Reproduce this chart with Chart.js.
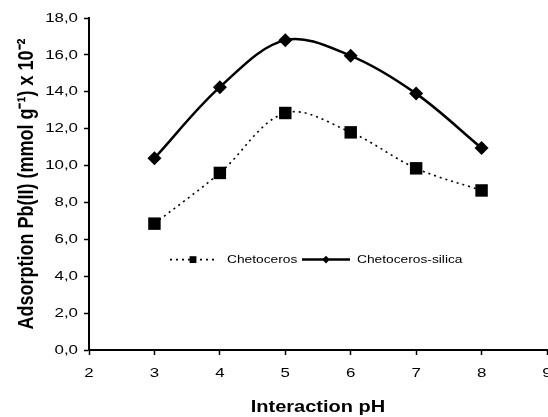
<!DOCTYPE html>
<html>
<head>
<meta charset="utf-8">
<script src="https://cdn.jsdelivr.net/npm/chart.js@4"></script>
<style>
  html, body { margin: 0; padding: 0; background: #fff; }
  #wrap { width: 548px; height: 417px; }
</style>
</head>
<body>
<div id="wrap"><canvas id="chart" width="548" height="417"></canvas></div>
<script>
// Data
const phValues = [3, 4, 5, 6, 7, 8];
const chetoceros = [6.85, 9.6, 12.85, 11.8, 9.85, 8.65];
const chetocerosSilica = [10.4, 14.25, 16.8, 15.95, 13.9, 10.95];
const seriesNames = ["Chetoceros", "Chetoceros-silica"];
const xTitle = "Interaction pH";
const yTitle = "Adsorption Pb(II) (mmol g\u207B\u00B9) x 10\u207B\u00B2";

const toPoints = (ys) => phValues.map((x, i) => ({ x: x, y: ys[i] }));
const fontFamily = "'Liberation Sans', Arial, sans-serif";

// The original figure has its text stretched sideways; mimic that
const TEXT_STRETCH = 1.25;
const ctx = document.getElementById("chart").getContext("2d");
const baseFillText = ctx.fillText;
ctx.fillText = function (text, x, y) {
  const m = this.getTransform();
  const p = m.transformPoint(new DOMPoint(x, y));
  this.save();
  this.setTransform(new DOMMatrix().translate(p.x, p.y).scale(TEXT_STRETCH, 1).translate(-p.x, -p.y).multiply(m));
  baseFillText.call(this, text, x, y);
  this.restore();
};

// Legend drawn inside the plot area, like the original
const innerLegend = {
  id: "innerLegend",
  afterDraw(chart) {
    const c = chart.ctx;
    const y = chart.scales.y.getPixelForValue(4.9);
    const items = [
      { ds: chart.data.datasets[0], x0: 170, x1: 216, text: seriesNames[0], tx: 227 },
      { ds: chart.data.datasets[1], x0: 302, x1: 350, text: seriesNames[1], tx: 357 },
    ];
    c.save();
    items.forEach((it) => {
      c.beginPath();
      c.strokeStyle = it.ds.borderColor;
      c.lineWidth = it.ds.borderWidth;
      c.setLineDash(it.ds.borderDash || []);
      c.moveTo(it.x0, y);
      c.lineTo(it.x1, y);
      c.stroke();
      c.setLineDash([]);
      c.fillStyle = "#000";
      Chart.helpers.drawPoint(c, { pointStyle: it.ds.pointStyle, radius: it.ds.pointRadius * 0.55, borderWidth: 0 },
        (it.x0 + it.x1) / 2, y);
      c.font = "11px " + fontFamily;
      c.textBaseline = "middle";
      c.textAlign = "left";
      c.fillText(it.text, it.tx, y);
    });
    c.restore();
  },
};

new Chart(ctx, {
  type: "line",
  data: {
    datasets: [
      {
        label: seriesNames[0],
        data: toPoints(chetoceros),
        borderColor: "#000",
        borderWidth: 1.6,
        borderDash: [2, 4],
        pointStyle: "rect",
        pointRadius: 8.8,
        pointBackgroundColor: "#000",
        pointBorderWidth: 0,
        tension: 0.35,
      },
      {
        label: seriesNames[1],
        data: toPoints(chetocerosSilica),
        borderColor: "#000",
        borderWidth: 2.5,
        pointStyle: "rectRot",
        pointRadius: 7,
        pointBackgroundColor: "#000",
        pointBorderWidth: 0,
        tension: 0.35,
      },
    ],
  },
  options: {
    responsive: false,
    animation: false,
    layout: { autoPadding: false, padding: { top: 18, right: 1, bottom: 0, left: 0 } },
    plugins: { legend: { display: false }, tooltip: { enabled: false } },
    scales: {
      x: {
        type: "linear",
        min: 2,
        max: 9,
        afterFit: (scale) => {
          scale.height = 67;
          scale.paddingLeft = 0;
          scale.paddingRight = 0;
        },
        border: { color: "#000", width: 2 },
        grid: { drawOnChartArea: false, tickLength: 5, color: "#000", tickWidth: 1.5 },
        ticks: { stepSize: 1, color: "#000", padding: 10, font: { family: fontFamily, size: 13.5 } },
        title: { display: true, text: xTitle, color: "#000", padding: { top: 0, bottom: 0 },
          font: { family: fontFamily, size: 16, weight: "bold" } },
      },
      y: {
        min: 0,
        max: 18,
        afterFit: (scale) => {
          scale.width = 89;
          scale.paddingTop = 0;
          scale.paddingBottom = 0;
        },
        border: { color: "#000", width: 2 },
        grid: { drawOnChartArea: false, tickLength: 5, color: "#000", tickWidth: 1.5 },
        ticks: {
          stepSize: 2,
          color: "#000",
          padding: 6,
          font: { family: fontFamily, size: 13.5 },
          callback: (v) => v.toFixed(1).replace(".", ","),
        },
        title: { display: true, text: yTitle, color: "#000", padding: { top: 16, bottom: 0 },
          font: { family: fontFamily, size: 18, weight: "bold" } },
      },
    },
  },
  plugins: [innerLegend],
});
</script>
</body>
</html>
